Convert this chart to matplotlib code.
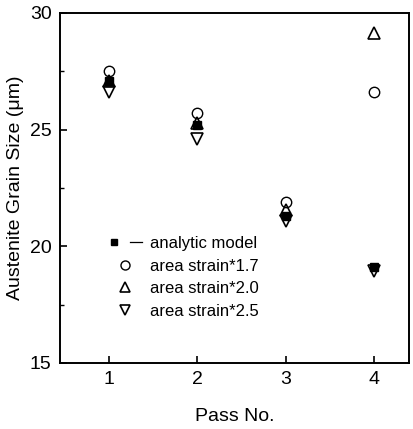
import matplotlib
matplotlib.use('Agg')
import matplotlib.pyplot as plt
from matplotlib.lines import Line2D
from matplotlib.legend_handler import HandlerTuple

plt.rcParams['font.family'] = ['Liberation Sans', 'DejaVu Sans']

# data
passes = [1, 2, 3, 4]
analytic = [27.1, 25.2, 21.3, 19.1]
strain_17 = [27.5, 25.7, 21.9, 26.6]
strain_20 = [27.1, 25.3, 21.55, 29.15]
strain_25 = [26.6, 24.6, 21.1, 18.95]

fig = plt.figure(figsize=(4.13, 4.29), dpi=100)
ax = fig.add_axes([0.145, 0.154, 0.845, 0.816])

ax.plot(passes, analytic, 's', color='black', markersize=5.5, linestyle='none')
ax.plot(passes, strain_17, 'o', mfc='none', mec='black', mew=1.0,
        markersize=7.5, linestyle='none')
ax.plot(passes, strain_20, '^', mfc='none', mec='black', mew=1.2,
        markersize=8.5, linestyle='none')
ax.plot(passes, strain_25, 'v', mfc='none', mec='black', mew=1.2,
        markersize=8.5, linestyle='none')

ax.set_xlim(0.45, 4.39)
ax.set_ylim(15, 30)
ax.set_xticks(passes)
ax.set_yticks([15, 20, 25, 30])
ax.set_yticks([17.5, 22.5, 27.5], minor=True)
ax.tick_params(axis='both', direction='in', labelsize=14, width=1.2, length=5)
ax.tick_params(axis='y', which='minor', direction='in', length=3, width=1.0)
ax.tick_params(axis='y', pad=6)
ax.tick_params(axis='x', pad=6)
for s in ax.spines.values():
    s.set_linewidth(1.4)

ax.set_xlabel('Pass No.', fontsize=14, labelpad=14)
ax.set_ylabel('Austenite Grain Size (\u03bcm)', fontsize=14, labelpad=4)

h_sq = Line2D([], [], marker='s', color='black', markersize=5, linestyle='none')
h_dash = Line2D([], [], color='black', linewidth=0.9)
h_c = Line2D([], [], marker='o', mfc='none', mec='black', mew=1.0,
             markersize=6.5, linestyle='none')
h_t = Line2D([], [], marker='^', mfc='none', mec='black', mew=1.2,
             markersize=7, linestyle='none')
h_v = Line2D([], [], marker='v', mfc='none', mec='black', mew=1.2,
             markersize=7, linestyle='none')
ax.legend([(h_sq, h_dash), h_c, h_t, h_v],
          ['analytic model', 'area strain*1.7', 'area strain*2.0', 'area strain*2.5'],
          handler_map={tuple: HandlerTuple(ndivide=None, pad=0.6)},
          loc='upper left', bbox_to_anchor=(0.12, 0.381), frameon=False,
          fontsize=12, handlelength=2.0, handletextpad=0.5, labelspacing=0.45,
          borderaxespad=0)

fig.savefig('out.png', dpi=100)
